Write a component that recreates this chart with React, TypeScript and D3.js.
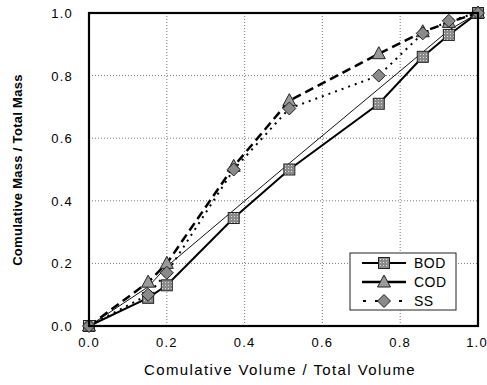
import React, { useEffect, useRef } from 'react';
import * as d3 from 'd3';

// cumulative volume fractions (x) for each series
const bodX = [0, 0.152, 0.2, 0.372, 0.515, 0.745, 0.858, 0.925, 1.0];
const bodY = [0, 0.09, 0.13, 0.345, 0.5, 0.71, 0.86, 0.93, 1.0];
// thin companion trace next to BOD
const bodThinX = [0, 0.152, 0.2, 0.515, 0.858, 0.925, 1.0];
const bodThinY = [0, 0.125, 0.19, 0.52, 0.875, 0.945, 1.0];
const codX = [0, 0.152, 0.2, 0.372, 0.515, 0.745, 0.858, 0.925, 1.0];
const codY = [0, 0.14, 0.2, 0.51, 0.72, 0.87, 0.94, 0.97, 1.0];
const ssX = [0, 0.152, 0.2, 0.372, 0.515, 0.745, 0.858, 0.925, 1.0];
const ssY = [0, 0.1, 0.17, 0.5, 0.695, 0.8, 0.935, 0.975, 1.0];

const xTicks = [0, 0.2, 0.4, 0.6, 0.8, 1.0];
const yTicks = [0, 0.2, 0.4, 0.6, 0.8, 1.0];
const legendLabels = ['BOD', 'COD', 'SS'];

const W = 487;
const H = 385;
const FONT = 'Liberation Sans, Arial, sans-serif';

const App = () => {
  const ref = useRef<SVGSVGElement>(null);

  useEffect(() => {
    const svg = d3.select(ref.current);
    svg.selectAll('*').remove();

    const x = d3.scaleLinear().domain([0, 1]).range([89, 478]);
    const y = d3.scaleLinear().domain([0, 1]).range([326, 13]);

    // pattern for the square markers
    const defs = svg.append('defs');
    const pat = defs.append('pattern')
      .attr('id', 'sqpat')
      .attr('width', 3)
      .attr('height', 3)
      .attr('patternUnits', 'userSpaceOnUse');
    pat.append('rect').attr('width', 3).attr('height', 3).attr('fill', '#8a8a8a');
    pat.append('rect').attr('width', 1).attr('height', 1).attr('fill', '#e0e0e0');

    svg.append('rect').attr('width', W).attr('height', H).attr('fill', '#fff');

    // grid
    svg.append('g')
      .selectAll('line')
      .data(xTicks.slice(1, -1))
      .join('line')
      .attr('x1', d => x(d)).attr('x2', d => x(d))
      .attr('y1', y(0)).attr('y2', y(1))
      .attr('stroke', '#555')
      .attr('stroke-width', 0.8)
      .attr('stroke-dasharray', '1,2');
    svg.append('g')
      .selectAll('line')
      .data(yTicks.slice(1, -1))
      .join('line')
      .attr('y1', d => y(d)).attr('y2', d => y(d))
      .attr('x1', x(0)).attr('x2', x(1))
      .attr('stroke', '#555')
      .attr('stroke-width', 0.8)
      .attr('stroke-dasharray', '1,2');

    // tick labels
    svg.append('g')
      .selectAll('text')
      .data(xTicks)
      .join('text')
      .attr('x', d => Math.min(x(d), W - 10))
      .attr('y', 347)
      .attr('text-anchor', 'middle')
      .style('font-family', FONT)
      .style('font-size', '13px')
      .style('letter-spacing', '1.2px')
      .text(d => d.toFixed(1));
    svg.append('g')
      .selectAll('text')
      .data(yTicks)
      .join('text')
      .attr('x', 73)
      .attr('y', d => y(d) + 5)
      .attr('text-anchor', 'end')
      .style('font-family', FONT)
      .style('font-size', '13px')
      .style('letter-spacing', '1.2px')
      .text(d => d.toFixed(1));

    // axis titles
    svg.append('text')
      .attr('x', 280)
      .attr('y', 375)
      .attr('text-anchor', 'middle')
      .style('font-family', FONT)
      .style('font-size', '15px')
      .style('letter-spacing', '1.4px')
      .text('Comulative Volume / Total Volume');
    svg.append('text')
      .attr('transform', 'translate(22,170) rotate(-90)')
      .attr('text-anchor', 'middle')
      .style('font-family', FONT)
      .style('font-size', '13px')
      .style('font-weight', 'bold')
      .style('letter-spacing', '0.3px')
      .text('Comulative Mass / Total Mass');

    const line = d3.line<[number, number]>()
      .x(d => x(d[0]))
      .y(d => y(d[1]));
    const pts = (xs: number[], ys: number[]) => xs.map((v, i) => [v, ys[i]] as [number, number]);

    const bod = pts(bodX, bodY);
    const bodThin = pts(bodThinX, bodThinY);
    const cod = pts(codX, codY);
    const ss = pts(ssX, ssY);

    // lines
    svg.append('path').datum(bodThin).attr('d', line)
      .attr('fill', 'none').attr('stroke', '#111').attr('stroke-width', 1);
    svg.append('path').datum(bod).attr('d', line)
      .attr('fill', 'none').attr('stroke', '#000').attr('stroke-width', 2);
    svg.append('path').datum(cod).attr('d', line)
      .attr('fill', 'none').attr('stroke', '#000').attr('stroke-width', 2.5)
      .attr('stroke-dasharray', '9,5');
    svg.append('path').datum(ss).attr('d', line)
      .attr('fill', 'none').attr('stroke', '#000').attr('stroke-width', 2)
      .attr('stroke-dasharray', '2,5');

    // markers
    const square = (g: any, cx: number, cy: number) => g.append('rect')
      .attr('x', cx - 5.5).attr('y', cy - 5.5)
      .attr('width', 11).attr('height', 11)
      .attr('fill', 'url(#sqpat)').attr('stroke', '#222').attr('stroke-width', 1);
    const triangle = (g: any, cx: number, cy: number) => g.append('path')
      .attr('d', `M${cx},${cy - 7}L${cx + 6.5},${cy + 5}L${cx - 6.5},${cy + 5}Z`)
      .attr('fill', '#9a9a9a').attr('stroke', '#222').attr('stroke-width', 1);
    const diamond = (g: any, cx: number, cy: number) => g.append('path')
      .attr('d', `M${cx},${cy - 6.5}L${cx + 6.5},${cy}L${cx},${cy + 6.5}L${cx - 6.5},${cy}Z`)
      .attr('fill', '#8a8a8a').attr('stroke', '#222').attr('stroke-width', 1);

    const marks = svg.append('g');
    bod.forEach(d => square(marks, x(d[0]), y(d[1])));
    cod.forEach(d => triangle(marks, x(d[0]), y(d[1])));
    ss.forEach(d => diamond(marks, x(d[0]), y(d[1])));

    // frame
    svg.append('rect')
      .attr('x', x(0)).attr('y', y(1))
      .attr('width', x(1) - x(0)).attr('height', y(0) - y(1))
      .attr('fill', 'none').attr('stroke', '#000').attr('stroke-width', 2.2);

    // legend
    const lg = svg.append('g').attr('transform', 'translate(350,253)');
    lg.append('rect')
      .attr('width', 106).attr('height', 57)
      .attr('fill', '#fff').attr('stroke', '#222').attr('stroke-width', 1);
    const rowY = [10, 29, 48];
    const dashes = [null, null, '3,9'];
    const widths = [2, 2.5, 2];
    const markFns = [square, triangle, diamond];
    legendLabels.forEach((lab, i) => {
      const l = lg.append('line')
        .attr('x1', 12).attr('x2', 56)
        .attr('y1', rowY[i]).attr('y2', rowY[i])
        .attr('stroke', '#000').attr('stroke-width', widths[i]);
      if (dashes[i]) l.attr('stroke-dasharray', dashes[i]).attr('stroke-dashoffset', -1);
      markFns[i](lg, 34, rowY[i]);
      lg.append('text')
        .attr('x', 64).attr('y', rowY[i] + 5)
        .style('font-family', FONT)
        .style('font-size', '14px')
        .style('letter-spacing', '0.5px')
        .text(lab);
    });
  }, []);

  return (
    <svg
      ref={ref}
      width={W}
      height={H}
      style={{ position: 'absolute', left: 0, top: 0 }}
    />
  );
};

export default App;
